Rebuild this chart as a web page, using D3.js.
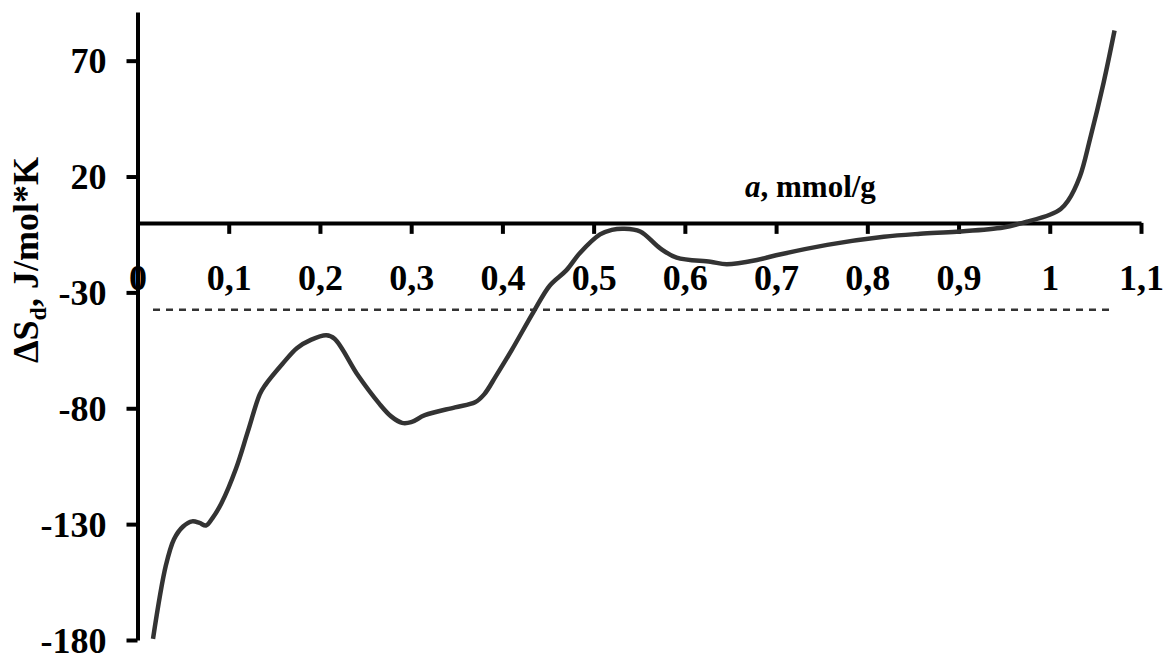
<!DOCTYPE html>
<html>
<head>
<meta charset="utf-8">
<script src="https://cdn.jsdelivr.net/npm/d3@7"></script>
<style>
  html, body { margin: 0; padding: 0; background: #fff; }
  svg { display: block; }
  text { font-family: "Liberation Serif", "Times New Roman", serif; font-weight: bold; fill: #000; }
</style>
</head>
<body>
<svg id="chart" width="1169" height="657"></svg>
<script>
// ---- data ----
const xTickValues = [0, 0.1, 0.2, 0.3, 0.4, 0.5, 0.6, 0.7, 0.8, 0.9, 1.0, 1.1];
const xTickLabels = ["0", "0,1", "0,2", "0,3", "0,4", "0,5", "0,6", "0,7", "0,8", "0,9", "1", "1,1"];
const yTickValues = [-180, -130, -80, -30, 20, 70];
const yTickLabels = ["-180", "-130", "-80", "-30", "20", "70"];

const adsorption = [0.017, 0.031, 0.040, 0.050, 0.060, 0.068, 0.075, 0.082, 0.092, 0.108, 0.121, 0.134, 0.140,
  0.159, 0.175, 0.190, 0.207, 0.216, 0.242, 0.265, 0.278, 0.290, 0.300, 0.315, 0.348, 0.370, 0.380, 0.393,
  0.410, 0.434, 0.452, 0.470, 0.485, 0.507, 0.520, 0.533, 0.551, 0.573, 0.591, 0.628, 0.646, 0.679, 0.700,
  0.756, 0.818, 0.858, 0.898, 0.949, 0.975, 1.000, 1.012, 1.020, 1.033, 1.044, 1.059, 1.071];
const entropy = [-179.5, -148, -136.5, -131, -128.8, -129.5, -130.6, -127.5, -121, -106, -90, -74, -70,
  -60.8, -54, -50.5, -48.5, -50, -66, -78, -83.5, -86.3, -86, -83, -79.6, -77.4, -74, -66,
  -55, -38.5, -27, -20.5, -13, -5, -3, -2.5, -3.7, -11, -15, -16.8, -17.8, -16, -14,
  -9.5, -6, -4.7, -3.8, -2, 0.5, 3.5, 6, 9.5, 20, 36, 60.5, 83];

const referenceLevel = -37.5;
const referenceRange = [0.017, 1.069];

// ---- layout ----
const svg = d3.select("#chart");
const x = d3.scaleLinear().domain([0, 1.1]).range([137.5, 1141]);
const y = d3.scaleLinear().domain([-180, 91]).range([640, 12]);

// dashed reference line
svg.append("line")
  .attr("x1", x(referenceRange[0])).attr("x2", x(referenceRange[1]))
  .attr("y1", y(referenceLevel)).attr("y2", y(referenceLevel))
  .attr("stroke", "#333").attr("stroke-width", 2.5)
  .attr("stroke-dasharray", "7,6");

// y axis
const yAxis = d3.axisLeft(y)
  .tickValues(yTickValues)
  .tickFormat((d, i) => yTickLabels[i])
  .tickSize(11).tickSizeOuter(0);
const gy = svg.append("g").attr("transform", `translate(${x(0)},0)`).call(yAxis);
gy.select(".domain").attr("stroke", "#000").attr("stroke-width", 4);
gy.selectAll(".tick line").attr("stroke", "#000").attr("stroke-width", 4);
gy.selectAll(".tick text")
  .attr("x", -31).attr("dy", "0.34em")
  .style("font-size", "36px").style("font-family", "'Liberation Serif', serif").style("font-weight", "bold")
  .attr("fill", "#000");

// x axis at y=0
const xAxis = d3.axisBottom(x)
  .tickValues(xTickValues)
  .tickFormat((d, i) => xTickLabels[i])
  .tickSize(11).tickSizeOuter(0);
const gx = svg.append("g").attr("transform", `translate(0,${y(0)})`).call(xAxis);
gx.select(".domain").attr("stroke", "#000").attr("stroke-width", 4);
gx.selectAll(".tick line").attr("stroke", "#000").attr("stroke-width", 4);
gx.selectAll(".tick text")
  .attr("y", 67).attr("dy", null)
  .style("font-size", "36px").style("font-family", "'Liberation Serif', serif").style("font-weight", "bold")
  .attr("fill", "#000");

// curve
const line = d3.line()
  .x((d, i) => x(adsorption[i]))
  .y((d, i) => y(entropy[i]))
  .curve(d3.curveCatmullRom.alpha(0.5));
svg.append("path")
  .datum(entropy)
  .attr("d", line)
  .attr("fill", "none")
  .attr("stroke", "#333333")
  .attr("stroke-width", 4.5)
  .attr("stroke-linejoin", "round");

// x axis title
const xt = svg.append("text")
  .attr("x", 745).attr("y", 197)
  .style("font-size", "31px");
xt.append("tspan").style("font-style", "italic").text("a");
xt.append("tspan").text(", mmol/g");

// y axis title
const yt = svg.append("text")
  .attr("transform", "translate(38,363) rotate(-90)")
  .attr("text-anchor", "start")
  .style("font-size", "36px");
yt.append("tspan").text("\u0394S");
yt.append("tspan").attr("dy", 8).style("font-size", "24px").text("d");
yt.append("tspan").attr("dy", -8).text(", J/mol*K");
</script>
</body>
</html>
